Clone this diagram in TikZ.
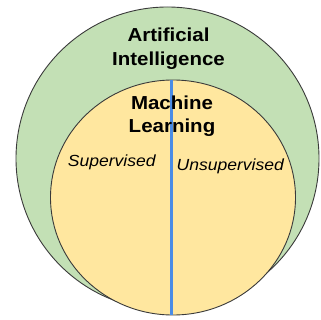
\documentclass[tikz,border=0pt]{standalone}
\usepackage{fontspec}
\usetikzlibrary{shapes.geometric}
\newfontfamily\labelfont[FakeStretch=1.09]{Liberation Sans}
\definecolor{aigreen}{HTML}{C3E0B5}
\definecolor{mlyellow}{HTML}{FFE79F}
\definecolor{edgegray}{HTML}{3A3A3A}
\definecolor{splitblue}{HTML}{4A8CE6}
\tikzset{
  region/.style={draw=edgegray, line width=0.9pt, inner sep=0pt, outer sep=0pt},
  title/.style={anchor=base, inner sep=0pt, text=black,
    font=\labelfont\bfseries\fontsize{18.8}{22}\selectfont},
  branch/.style={anchor=base, inner sep=0pt, text=black,
    font=\labelfont\itshape\fontsize{16.1}{19}\selectfont},
  splitter/.style={draw=splitblue, line width=3pt}
}
\begin{document}
\begin{tikzpicture}[x=1pt,y=-1pt]
  \useasboundingbox (0,0) rectangle (320,320);
  % outer region: artificial intelligence
  \node[region, circle, fill=aigreen, minimum size=303pt] (ai) at (167.5,158.5) {};
  % inner region: machine learning
  \node[region, ellipse, fill=mlyellow, minimum width=245pt, minimum height=235pt] (ml) at (173,197.5) {};
  % divider between the two kinds of learning
  \draw[splitter] ([xshift=-1.3pt]ml.north) -- ([xshift=-1.3pt]ml.south);
  % labels
  \node[title] (ai1) at (168.5,41.7) {Artificial};
  \node[title] (ai2) at (168.5,65.7) {Intelligence};
  \node[title] (ml1) at (172,109.3) {Machine};
  \node[title] (ml2) at (172,132.7) {Learning};
  \node[branch] (sup) at (111.7,166.7) {Supervised};
  \node[branch] (uns) at (230.3,170) {Unsupervised};
\end{tikzpicture}
\end{document}
